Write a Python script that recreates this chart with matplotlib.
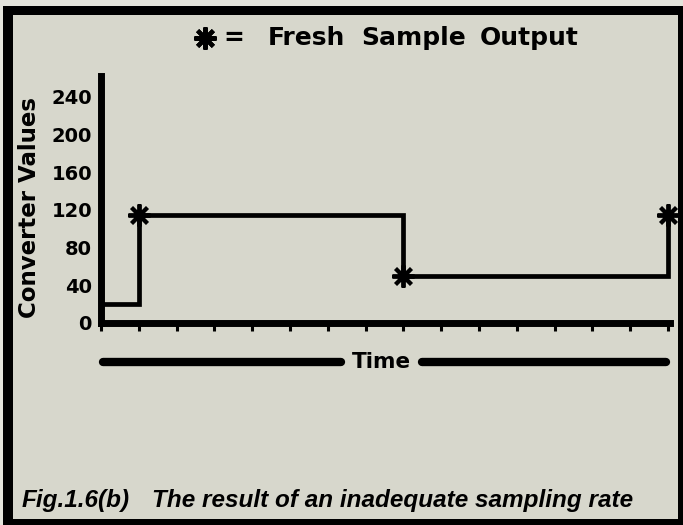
import matplotlib
matplotlib.use('Agg')
import matplotlib.pyplot as plt
from matplotlib.patches import Rectangle
from matplotlib.lines import Line2D

# DATA
sample_times = [0, 1, 8, 15]          # tick index where the converter output changes
sample_values = [20, 115, 50, 115]    # converter value held after each change
fresh_times = [1, 8, 15]              # fresh sample outputs (asterisks)
fresh_values = [115, 50, 115]
y_ticks = [0, 40, 80, 120, 160, 200, 240]
x_ticks = list(range(16))

W, H = 683, 525
def fx(px):
    return px / W
def fy(py):
    return 1 - py / H

paper = '#d7d7cc'
fig = plt.figure(figsize=(W / 100, H / 100), dpi=100, facecolor='#e4e4dc')

# frame
fig.add_artist(Rectangle((fx(3), fy(525)), fx(680), 519 / H, transform=fig.transFigure,
                         facecolor='black', edgecolor='none', zorder=0))
fig.add_artist(Rectangle((fx(13), fy(519)), fx(665), 504 / H, transform=fig.transFigure,
                         facecolor=paper, edgecolor='none', zorder=0))

# AXES
ax = fig.add_axes([fx(101), fy(323), 569 / W, 246.8 / H])
ax.patch.set_visible(False)
ax.set_xlim(0, 15.05)
ax.set_ylim(0, 262)
for s in ['top', 'right']:
    ax.spines[s].set_visible(False)
for s in ['left', 'bottom']:
    ax.spines[s].set_linewidth(5)
    ax.spines[s].set_capstyle('projecting')

ax.set_xticks(x_ticks)
ax.set_xticklabels([])
ax.tick_params(axis='x', direction='out', length=6, width=2.2, color='black')
ax.set_yticks(y_ticks)
ax.set_yticklabels([str(v) for v in y_ticks], fontsize=14, fontweight='heavy')
ax.tick_params(axis='y', length=0, pad=6.5)

ax.step(sample_times, sample_values, where='post', color='black', lw=3.4,
        solid_joinstyle='miter', clip_on=False)
ax.plot(fresh_times, fresh_values, ls='none', marker=(8, 2, 0), ms=16, mew=2.8,
        color='black', clip_on=False)

fig.text(fx(30), fy(207), 'Converter Values', rotation=90, ha='center', va='center',
         fontsize=16.5, fontweight='heavy')

# title / legend line
fig.add_artist(Line2D([fx(205)], [fy(38)], marker=(8, 2, 0), ms=16, mew=3,
                      color='black', transform=fig.transFigure))
for word, left in [('=', 223), ('Fresh', 268), ('Sample', 361), ('Output', 480)]:
    fig.text(fx(left), fy(38), word, ha='left', va='center', fontsize=18, fontweight='bold')

# time arrow
fig.add_artist(Line2D([fx(103), fx(341)], [fy(362), fy(362)], lw=6, color='black',
                      solid_capstyle='round', transform=fig.transFigure))
fig.add_artist(Line2D([fx(422), fx(666)], [fy(362), fy(362)], lw=6, color='black',
                      solid_capstyle='round', transform=fig.transFigure))
fig.text(fx(381), fy(362), 'Time', ha='center', va='center', fontsize=15.5, fontweight='bold')

# caption
cap = dict(va='center', fontsize=17.5, fontweight='bold', fontstyle='italic',
           family='Liberation Sans')
fig.text(fx(22), fy(500), 'Fig.1.6(b)', ha='left', **cap)
fig.text(fx(152), fy(500), 'The result of an inadequate sampling rate', ha='left', **cap)

fig.savefig('out.png', dpi=100, facecolor=fig.get_facecolor())
